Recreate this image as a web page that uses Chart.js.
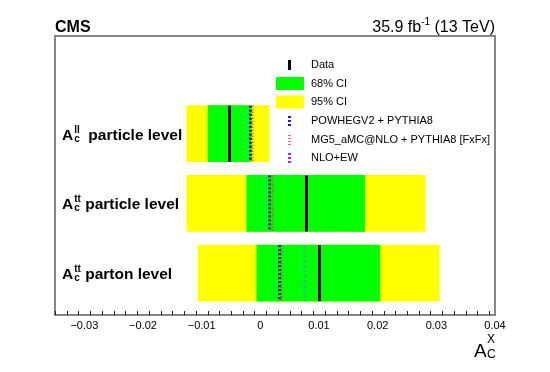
<!DOCTYPE html>
<html>
<head>
<meta charset="utf-8">
<script src="https://cdn.jsdelivr.net/npm/chart.js@4"></script>
<style>
  body { margin: 0; background: #fff; }
  canvas { display: block; }
</style>
</head>
<body>
<canvas id="chart" width="550" height="372"></canvas>
<script>
// rows, top to bottom
var rowSup = ['ll', 'tt', 'tt'];
var rowText = ['  particle level', ' particle level', ' parton level'];

// measured asymmetries and confidence intervals
var dataValue = [-0.0053, 0.0078, 0.0100];
var ci68Low = [-0.0089, -0.0023, -0.0006];
var ci68High = [-0.0016, 0.0178, 0.0204];
var ci95Low = [-0.0125, -0.0125, -0.0106];
var ci95High = [0.0015, 0.0281, 0.0305];

// predictions
var powheg = [-0.0018, 0.0015, 0.0032];
var mg5 = [-0.0014, 0.0020, 0.0035];
var nloEw = [null, null, 0.0075];

var xTicks = [-0.03, -0.02, -0.01, 0, 0.01, 0.02, 0.03, 0.04];

var FONT = "'Liberation Sans', Arial, Helvetica, sans-serif";
var BAND = 56;

function rowsOf(lo, hi) {
    return lo.map(function (v, i) { return { x: [v, hi[i]], y: i }; });
}

var markers = [
    { values: dataValue, color: '#000000', width: 3, dash: [] },
    { values: powheg, color: '#1a1ad0', width: 3, dash: [2, 2] },
    { values: mg5, color: '#ff2020', width: 2, dash: [1, 2] },
    { values: nloEw, color: '#3a9ad9', width: 2, dash: [2, 3] }
];

var decorations = {
    id: 'decorations',
    afterDatasetsDraw: function (chart) {
        var ctx = chart.ctx, xs = chart.scales.x, ys = chart.scales.y;
        ctx.save();
        markers.forEach(function (m) {
            m.values.forEach(function (v, i) {
                if (v === null) return;
                var x = Math.round(xs.getPixelForValue(v)) + 0.5;
                var y = ys.getPixelForValue(i);
                ctx.beginPath();
                ctx.setLineDash(m.dash);
                ctx.strokeStyle = m.color;
                ctx.lineWidth = m.width;
                ctx.moveTo(x, y - BAND / 2);
                ctx.lineTo(x, y + BAND / 2);
                ctx.stroke();
            });
        });
        ctx.restore();
    },
    afterDraw: function (chart) {
        var ctx = chart.ctx, a = chart.chartArea, xs = chart.scales.x, ys = chart.scales.y;
        ctx.save();

        // frame
        ctx.strokeStyle = '#858585';
        ctx.lineWidth = 2;
        ctx.strokeRect(a.left, a.top, a.right - a.left, a.bottom - a.top);

        // inward ticks
        ctx.strokeStyle = '#222';
        ctx.lineWidth = 1;
        for (var k = -35; k <= 40; k += 2) {
            var v = k / 1000;
            var x = Math.round(xs.getPixelForValue(v)) + 0.5;
            var major = k % 10 === 0;
            ctx.beginPath();
            ctx.moveTo(x, a.bottom);
            ctx.lineTo(x, a.bottom - (major ? 8 : 4));
            ctx.stroke();
        }

        // header
        ctx.fillStyle = '#000';
        ctx.textBaseline = 'alphabetic';
        ctx.textAlign = 'left';
        ctx.font = 'bold 16px ' + FONT;
        ctx.fillText('CMS', a.left, a.top - 4);
        ctx.font = '16px ' + FONT;
        var t1 = '35.9 fb', t2 = '-1', t3 = ' (13 TeV)';
        var w1 = ctx.measureText(t1).width, w3 = ctx.measureText(t3).width;
        ctx.font = '10px ' + FONT;
        var w2 = ctx.measureText(t2).width;
        var x0 = a.right - w1 - w2 - w3;
        ctx.font = '16px ' + FONT;
        ctx.fillText(t1, x0, a.top - 4);
        ctx.fillText(t3, x0 + w1 + w2, a.top - 4);
        ctx.font = '10px ' + FONT;
        ctx.fillText(t2, x0 + w1, a.top - 11);

        // row labels
        rowSup.forEach(function (sup, i) {
            var base = ys.getPixelForValue(i) + 6;
            var lx = a.left + 7;
            ctx.font = 'bold 15.5px ' + FONT;
            ctx.fillText('A', lx, base);
            var aw = ctx.measureText('A').width;
            ctx.font = 'bold 10px ' + FONT;
            ctx.fillText(sup, lx + aw + 1, base - 7);
            ctx.fillText('c', lx + aw + 1, base + 2);
            var sw = Math.max(ctx.measureText(sup).width, ctx.measureText('c').width);
            ctx.font = 'bold 15.5px ' + FONT;
            ctx.fillText(rowText[i], lx + aw + sw + 1, base);
        });

        // legend
        var lx0 = 276, tx = 311;
        var ly = [65, 83.5, 102, 121, 140, 158];
        ctx.font = '11px ' + FONT;
        ctx.textBaseline = 'middle';
        var names = ['Data', '68% CI', '95% CI', 'POWHEGV2 + PYTHIA8', 'MG5_aMC@NLO + PYTHIA8 [FxFx]', 'NLO+EW'];
        names.forEach(function (n, i) { ctx.fillStyle = '#000'; ctx.fillText(n, tx, ly[i]); });
        ctx.fillStyle = '#000';
        ctx.fillRect(288, ly[0] - 5, 3, 10);
        ctx.fillStyle = '#00ff00';
        ctx.fillRect(lx0, ly[1] - 6.5, 28, 13);
        ctx.fillStyle = '#ffff00';
        ctx.fillRect(lx0, ly[2] - 6.5, 28, 13);
        var lineCols = [['#1a1ad0', 3, [2, 2]], ['#ff2020', 2, [1, 2]], ['#c020c0', 3, [2, 2]]];
        lineCols.forEach(function (c, j) {
            var yy = ly[3 + j];
            ctx.beginPath();
            ctx.setLineDash(c[2]);
            ctx.strokeStyle = c[0];
            ctx.lineWidth = c[1];
            ctx.moveTo(289.5, yy - 5);
            ctx.lineTo(289.5, yy + 5);
            ctx.stroke();
        });
        ctx.setLineDash([]);

        // axis title
        ctx.fillStyle = '#000';
        ctx.textBaseline = 'alphabetic';
        ctx.font = '19px ' + FONT;
        ctx.fillText('A', 474, 357);
        ctx.font = '12px ' + FONT;
        ctx.fillText('X', 487, 343);
        ctx.fillText('C', 487, 358);

        ctx.restore();
    }
};

new Chart(document.getElementById('chart').getContext('2d'), {
    type: 'bar',
    data: {
        datasets: [{
            label: '68% CI',
            data: rowsOf(ci68Low, ci68High),
            backgroundColor: '#00ff00'
        }, {
            label: '95% CI',
            data: rowsOf(ci95Low, ci95High),
            backgroundColor: '#ffff00'
        }]
    },
    options: {
        indexAxis: 'y',
        responsive: false,
        animation: false,
        datasets: {
            bar: { grouped: false, barThickness: BAND, borderWidth: 0 }
        },
        layout: { padding: { left: 55, right: 55, top: 36, bottom: 35 } },
        plugins: { legend: { display: false }, tooltip: { enabled: false } },
        scales: {
            x: {
                type: 'linear',
                min: -0.035,
                max: 0.04,
                grid: { display: false, drawTicks: false },
                border: { display: false },
                afterBuildTicks: function (scale) {
                    scale.ticks = xTicks.map(function (v) { return { value: v }; });
                },
                afterFit: function (scale) { scale.height = 22; },
                ticks: {
                    autoSkip: false,
                    maxRotation: 0,
                    padding: 4,
                    color: '#000',
                    font: { family: FONT, size: 11 },
                    callback: function (v) {
                        var s = Math.abs(v) < 1e-9 ? '0' : String(Math.round(v * 100) / 100);
                        return s.replace('-', '\u2212');
                    }
                }
            },
            y: {
                type: 'linear',
                reverse: true,
                offset: false,
                min: -1.4,
                max: 2.6,
                display: false
            }
        }
    },
    plugins: [decorations]
});
</script>
</body>
</html>
